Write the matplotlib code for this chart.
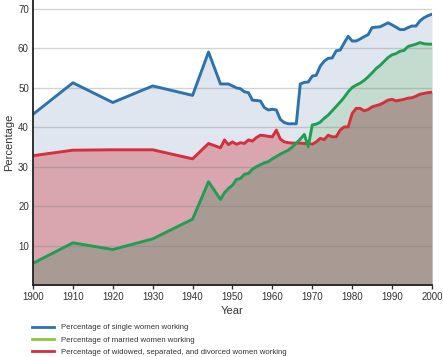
import numpy as np
import matplotlib
matplotlib.use("Agg")
import matplotlib.pyplot as plt
from matplotlib.lines import Line2D

plt.rcParams['font.family'] = ['Liberation Sans', 'DejaVu Sans']

years = [1900, 1910, 1920, 1930, 1940, 1944] + list(range(1947, 2001))

single = [43.3, 51.3, 46.3, 50.5, 48.1, 59.1,
          51.0, 51.0, 51.0, 50.5, 50.0, 49.8, 49.0, 48.8, 46.9, 46.8,
          46.7, 45.0, 44.4, 44.6, 44.4, 42.0, 41.2, 40.9, 40.9, 40.9,
          51.0, 51.4, 51.5, 53.0, 53.2, 55.5, 56.8, 57.5, 57.6, 59.4,
          59.6, 61.4, 63.1, 61.9, 61.9, 62.4, 63.0, 63.5, 65.3, 65.4,
          65.5, 66.0, 66.5, 66.0, 65.4, 64.8, 64.8, 65.3, 65.7, 65.7,
          67.0, 67.8, 68.3, 68.7]

married = [5.5, 10.7, 9.0, 11.7, 16.7, 26.2,
           21.7, 23.4, 24.5, 25.3, 26.8, 27.0, 28.1, 28.3, 29.4, 30.0,
           30.5, 31.0, 31.3, 32.0, 32.6, 33.2, 33.7, 34.2, 35.0, 36.0,
           37.0, 38.2, 35.1, 40.6, 40.8, 41.3, 42.3, 43.1, 44.2, 45.3,
           46.4, 47.6, 49.0, 50.1, 50.7, 51.2, 51.9, 52.8, 53.8, 54.9,
           55.7, 56.7, 57.7, 58.4, 58.7, 59.3, 59.5, 60.5, 60.8, 61.1,
           61.5, 61.2, 61.1, 61.1]

widowed = [32.8, 34.2, 34.3, 34.3, 32.0, 35.9,
           34.8, 36.8, 35.6, 36.3, 35.7, 36.1, 35.9, 36.8, 36.5, 37.4,
           38.0, 37.9, 37.7, 37.6, 39.3, 37.0, 36.3, 36.1, 36.0, 36.0,
           36.0, 35.9, 35.9, 35.7, 36.3, 37.2, 36.9, 38.0, 37.6, 37.6,
           39.3, 40.1, 40.1, 43.5, 44.8, 44.8, 44.2, 44.5, 45.2, 45.5,
           45.8, 46.3, 46.9, 47.1, 46.7, 46.9, 47.1, 47.4, 47.5, 47.9,
           48.4, 48.6, 48.8, 48.9]

labels = ["Percentage of single women working",
          "Percentage of married women working",
          "Percentage of widowed, separated, and divorced women working"]

x = np.array(years)
b = np.array(single)
g = np.array(married)
r = np.array(widowed)

fig = plt.figure(figsize=(4.43, 3.57), dpi=100)
ax = fig.add_axes([0.0745, 0.2017, 0.9005, 0.7983])

# layered fills, overlap of red and green gets the grey-brown
ax.fill_between(x, 0, b, color='#e0e6f0', lw=0, zorder=1)
ax.fill_between(x, 0, r, color='#d9a6b0', lw=0, zorder=2)
ax.fill_between(x, 0, g, color='#c4dccf', lw=0, zorder=3)
ax.fill_between(x, 0, np.minimum(r, g), color='#a99b94', lw=0, zorder=4)

for yv in range(10, 80, 10):
    ax.axhline(yv, color='#7a7a7a', alpha=0.33, lw=1, zorder=5)

ax.plot(x, b, color='#2b73ae', lw=2.1, zorder=7)
ax.plot(x, r, color='#d42f3b', lw=2.1, zorder=6)
ax.plot(x, g, color='#1f9e52', lw=2.1, zorder=8)

ax.set_xlim(1900, 2000)
ax.set_ylim(0, 72.3)
ax.set_xticks(range(1900, 2001, 10))
ax.set_yticks(range(10, 71, 10))
ax.tick_params(axis='x', length=3, width=1, labelsize=7, colors='#333333', pad=2)
ax.tick_params(axis='y', length=0, labelsize=7, colors='#333333', pad=3)
for s in ['top', 'right']:
    ax.spines[s].set_visible(False)
for s in ['left', 'bottom']:
    ax.spines[s].set_linewidth(1.3)
    ax.spines[s].set_color('#222222')
    ax.spines[s].set_zorder(9)

ax.set_xlabel("Year", fontsize=8, color='#333333', labelpad=3)
ax.set_ylabel("Percentage", fontsize=8, color='#333333', labelpad=3)

handles = [Line2D([], [], color='#2b73ae', lw=2),
           Line2D([], [], color='#8dc63f', lw=2),
           Line2D([], [], color='#d42f3b', lw=2)]
fig.legend(handles, labels, loc='upper left', bbox_to_anchor=(0.072, 0.093),
           frameon=False, fontsize=5.6, handlelength=2.9, handletextpad=0.8,
           labelspacing=0.62, borderaxespad=0, borderpad=0, labelcolor='#333333')

fig.savefig("out.png", dpi=100)
